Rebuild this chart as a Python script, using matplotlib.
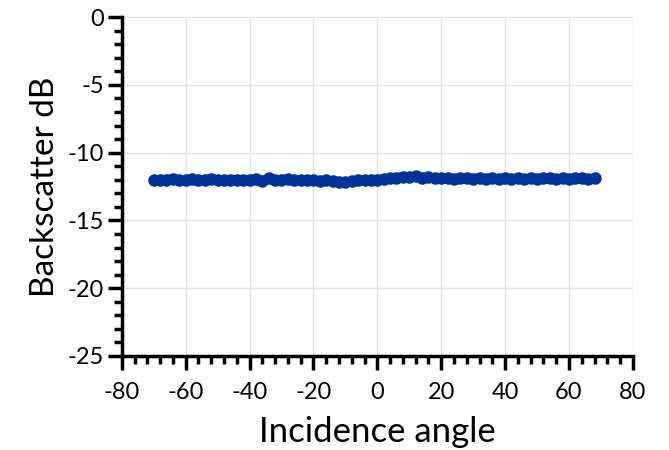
import numpy as np
import matplotlib
matplotlib.use("Agg")
import matplotlib.pyplot as plt
from matplotlib.ticker import MultipleLocator

# Measured backscatter vs incidence angle
angle = np.arange(-70, 70, 2)
backscatter = [
    -12.00, -12.05, -12.00, -11.95, -12.05, -12.00, -11.95, -12.05, -12.00, -11.95,
    -12.00, -12.05, -12.00, -12.00, -12.05, -12.00, -11.95, -12.10, -11.90, -12.05,
    -12.00, -11.95, -12.05, -12.00, -12.05, -12.00, -12.10, -12.05, -12.10, -12.15,
    -12.20, -12.10, -12.05, -12.05, -12.00, -12.00, -11.95, -11.90, -11.85, -11.80,
    -11.80, -11.75, -11.85, -11.80, -11.90, -11.85, -11.90, -11.95, -11.90, -11.90,
    -11.95, -11.85, -11.95, -11.90, -11.95, -11.90, -11.95, -11.90, -11.95, -11.90,
    -11.95, -11.90, -11.90, -11.95, -11.90, -11.95, -11.90, -11.90, -11.95, -11.90,
]

plt.rcParams["font.family"] = ["Lato", "DejaVu Sans"]
plt.rcParams["axes.unicode_minus"] = False

fig = plt.figure(figsize=(6.69, 4.5), dpi=100)
ax = fig.add_axes([0.182, 0.209, 0.764, 0.753])

ax.plot(angle, backscatter, color="#003399", linewidth=7, marker="o",
        markersize=8, solid_capstyle="round", zorder=3)

ax.set_xlim(-80, 80)
ax.set_ylim(-25, 0)
ax.xaxis.set_major_locator(MultipleLocator(20))
ax.xaxis.set_minor_locator(MultipleLocator(4))
ax.yaxis.set_major_locator(MultipleLocator(5))
ax.yaxis.set_minor_locator(MultipleLocator(1))

ax.grid(True, which="major", color="#e3e3e3", linewidth=1)
ax.set_axisbelow(True)
for side in ("top", "right"):
    ax.spines[side].set_visible(False)
for side in ("left", "bottom"):
    ax.spines[side].set_linewidth(2.5)

ax.tick_params(which="major", direction="out", length=10, width=2.5, labelsize=17)
ax.tick_params(which="minor", direction="out", length=6, width=2.5)
ax.tick_params(axis="x", pad=9)
ax.tick_params(axis="y", pad=3)

ax.set_xlabel("Incidence angle", fontsize=25, labelpad=9)
ax.set_ylabel("Backscatter dB", fontsize=24, labelpad=5)

fig.savefig("out.png", dpi=100, facecolor="white")
